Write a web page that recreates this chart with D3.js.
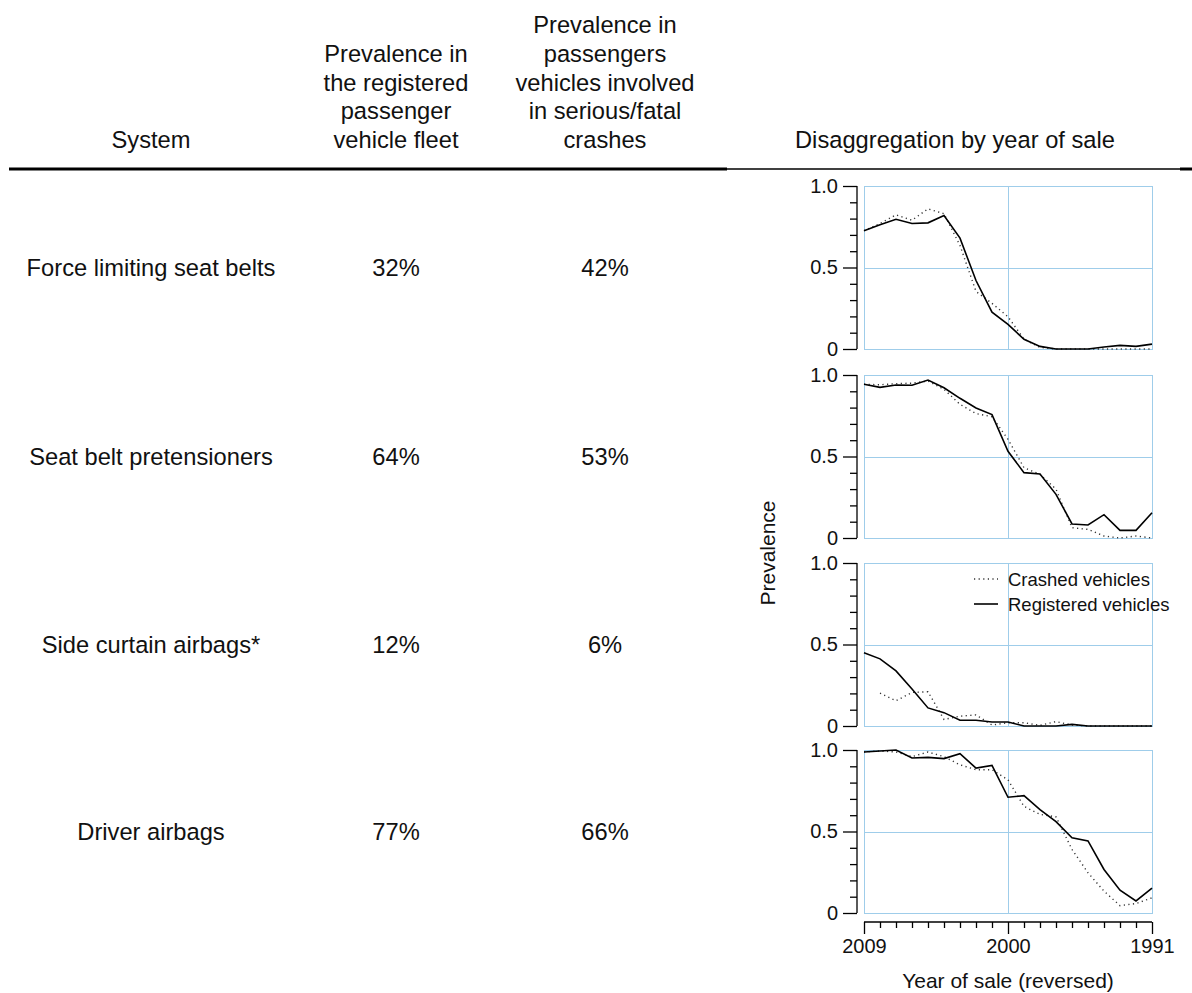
<!DOCTYPE html>
<html>
<head>
<meta charset="utf-8">
<script src="https://cdn.jsdelivr.net/npm/d3@7"></script>
<style>
  html, body { margin: 0; padding: 0; background: #fff; }
  svg { display: block; font-family: "Liberation Sans", Arial, Helvetica, sans-serif; }
</style>
</head>
<body>
<svg id="chart" width="1192" height="993"></svg>
<script>
// ---------------- data ----------------
const years = [2009, 2008, 2007, 2006, 2005, 2004, 2003, 2002, 2001, 2000,
               1999, 1998, 1997, 1996, 1995, 1994, 1993, 1992, 1991];

const systems = ["Force limiting seat belts", "Seat belt pretensioners",
                 "Side curtain airbags*", "Driver airbags"];
const fleetPct = ["32%", "64%", "12%", "77%"];
const crashPct = ["42%", "53%", "6%", "66%"];

const headerSystem = ["System"];
const headerFleet = ["Prevalence in", "the registered", "passenger", "vehicle fleet"];
const headerCrash = ["Prevalence in", "passengers", "vehicles involved", "in serious/fatal", "crashes"];
const headerDisagg = ["Disaggregation by year of sale"];

const registered = [
  [0.726, 0.762, 0.796, 0.770, 0.774, 0.819, 0.680, 0.420, 0.226, 0.151, 0.060, 0.016, 0.000, 0.000, 0.000, 0.012, 0.022, 0.016, 0.030],
  [0.943, 0.924, 0.939, 0.937, 0.969, 0.922, 0.857, 0.798, 0.757, 0.532, 0.401, 0.393, 0.268, 0.086, 0.080, 0.143, 0.047, 0.047, 0.155],
  [0.449, 0.412, 0.338, 0.227, 0.111, 0.082, 0.035, 0.035, 0.025, 0.025, 0.000, 0.000, 0.000, 0.010, 0.000, 0.000, 0.000, 0.000, 0.000],
  [0.988, 0.994, 1.000, 0.951, 0.955, 0.947, 0.977, 0.889, 0.905, 0.710, 0.720, 0.634, 0.560, 0.461, 0.442, 0.267, 0.140, 0.074, 0.152]
];
const crashed = [
  [0.726, 0.770, 0.823, 0.790, 0.860, 0.830, 0.635, 0.353, 0.280, 0.198, 0.060, 0.010, 0.000, 0.000, 0.000, 0.000, 0.000, 0.000, 0.000],
  [0.943, 0.940, 0.947, 0.950, 0.963, 0.912, 0.820, 0.763, 0.744, 0.605, 0.431, 0.390, 0.300, 0.063, 0.053, 0.012, 0.000, 0.012, 0.000],
  [null, 0.202, 0.155, 0.206, 0.210, 0.040, 0.060, 0.068, 0.006, 0.020, 0.020, 0.004, 0.027, 0.006, 0.000, 0.000, 0.000, 0.000, 0.000],
  [0.988, 0.994, 0.988, 0.959, 0.988, 0.959, 0.909, 0.879, 0.879, 0.817, 0.654, 0.605, 0.590, 0.390, 0.247, 0.134, 0.045, 0.058, 0.093]
];

const yTickValues = d3.range(0, 11).map(d => d / 10);
const yTickLabels = {0: "0", 0.5: "0.5", 1: "1.0"};
const xTickLabels = {2009: "2009", 2000: "2000", 1991: "1991"};
const legendLabels = ["Crashed vehicles", "Registered vehicles"];

// ---------------- layout ----------------
const svg = d3.select("#chart");
const TXT = "#111";
const GRID = "#9fcdea";
const panelLeft = 864, panelRight = 1152;
const panelTops = [186, 375, 563, 750];
const panelH = 163;
const col1 = 151, col2 = 396, col3 = 605, col4 = 955;
const tableFont = 23.7;
const snap = v => Math.round(v) + 0.5;

// header
const lineH = 28.75;
function headerCol(lines, cx) {
  const n = lines.length;
  svg.append("g").selectAll("text").data(lines).join("text")
    .attr("x", cx)
    .attr("y", (d, i) => 140 - (n - 1 - i) * lineH)
    .attr("text-anchor", "middle")
    .attr("dominant-baseline", "central")
    .attr("font-size", tableFont)
    .attr("fill", TXT)
    .text(d => d);
}
headerCol(headerSystem, col1);
headerCol(headerFleet, col2);
headerCol(headerCrash, col3);
headerCol(headerDisagg, col4);

// rule
svg.append("line").attr("x1", 9).attr("x2", 727).attr("y1", 169).attr("y2", 169)
  .attr("stroke", "#000").attr("stroke-width", 3);
svg.append("line").attr("x1", 727).attr("x2", 1180).attr("y1", 169).attr("y2", 169)
  .attr("stroke", "#000").attr("stroke-width", 1.6);
svg.append("line").attr("x1", 1180).attr("x2", 1192).attr("y1", 169).attr("y2", 169)
  .attr("stroke", "#000").attr("stroke-width", 3);

// scales
const x = d3.scaleLinear().domain([2009, 1991]).range([panelLeft, panelRight]);

systems.forEach((name, p) => {
  const top = panelTops[p];
  const y = d3.scaleLinear().domain([0, 1]).range([top + panelH, top]);
  const g = svg.append("g");
  const midY = y(0.5);

  // table row
  [[name, col1], [fleetPct[p], col2], [crashPct[p], col3]].forEach(([t, cx]) => {
    g.append("text").attr("x", cx).attr("y", midY)
      .attr("text-anchor", "middle").attr("dominant-baseline", "central")
      .attr("font-size", tableFont).attr("fill", TXT).text(t);
  });

  // panel box & grid
  const grid = g.append("g").attr("stroke", GRID).attr("stroke-width", 1).attr("fill", "none")
    .attr("shape-rendering", "crispEdges");
  grid.append("rect").attr("x", snap(panelLeft)).attr("y", snap(top))
    .attr("width", panelRight - panelLeft).attr("height", panelH);
  grid.append("line").attr("x1", snap(x(2000))).attr("x2", snap(x(2000))).attr("y1", top).attr("y2", top + panelH);
  grid.append("line").attr("x1", panelLeft).attr("x2", panelRight).attr("y1", snap(y(0.5))).attr("y2", snap(y(0.5)));

  // y axis
  const key = d => Math.round(d * 10) / 10;
  const yAxis = d3.axisLeft(y).tickValues(yTickValues)
    .tickSize(7).tickPadding(4)
    .tickFormat(d => yTickLabels[key(d)] !== undefined ? yTickLabels[key(d)] : "");
  const ya = g.append("g").attr("transform", `translate(857,0)`).call(yAxis);
  ya.select(".domain").attr("stroke", "#000").attr("stroke-width", 1.3).attr("d", `M-0,${y(1)}V${y(0)}`);
  ya.selectAll(".tick line").attr("stroke", "#000").attr("stroke-width", 1.3)
    .attr("x2", d => (yTickLabels[key(d)] !== undefined ? -14 : -7));
  ya.selectAll(".tick text").attr("font-size", 20).attr("fill", TXT)
    .attr("font-family", "Liberation Sans, Arial, sans-serif")
    .attr("x", -19);

  // lines
  const line = d3.line().defined(d => d.v !== null)
    .x(d => x(d.year)).y(d => y(d.v));
  const regData = years.map((yr, i) => ({year: yr, v: registered[p][i]}));
  const crData = years.map((yr, i) => ({year: yr, v: crashed[p][i]}));
  g.append("path").datum(crData).attr("d", line)
    .attr("fill", "none").attr("stroke", "#333").attr("stroke-width", 1.4)
    .attr("stroke-dasharray", "1.2,3.4");
  g.append("path").datum(regData).attr("d", line)
    .attr("fill", "none").attr("stroke", "#000").attr("stroke-width", 1.6);

  // legend in panel 3
  if (p === 2) {
    const lg = g.append("g");
    legendLabels.forEach((lab, i) => {
      const ly = 579 + i * 25;
      lg.append("line").attr("x1", 974).attr("x2", 998).attr("y1", ly).attr("y2", ly)
        .attr("stroke", i === 0 ? "#333" : "#000").attr("stroke-width", i === 0 ? 1.4 : 1.6)
        .attr("stroke-dasharray", i === 0 ? "1.2,3.4" : null);
      lg.append("text").attr("x", 1008).attr("y", ly).attr("dominant-baseline", "central")
        .attr("font-size", 18.5).attr("fill", TXT).text(lab);
    });
  }
});

// x axis
const xAxis = d3.axisBottom(x).tickValues(years).tickSize(6).tickPadding(4)
  .tickFormat(d => xTickLabels[d] || "");
const xa = svg.append("g").attr("transform", "translate(0,922)").call(xAxis);
xa.select(".domain").attr("stroke", "#000").attr("stroke-width", 1.3).attr("d", `M${panelLeft},0H${panelRight}`);
xa.selectAll(".tick line").attr("stroke", "#000").attr("stroke-width", 1.3)
  .attr("y2", d => xTickLabels[d] ? 12 : 6);
xa.selectAll(".tick text").attr("font-size", 20).attr("fill", TXT)
  .attr("font-family", "Liberation Sans, Arial, sans-serif")
  .attr("y", 17);

// axis titles
svg.append("text").attr("x", (panelLeft + panelRight) / 2).attr("y", 980)
  .attr("text-anchor", "middle").attr("dominant-baseline", "central")
  .attr("font-size", 21).attr("fill", TXT).text("Year of sale (reversed)");
svg.append("text").attr("transform", "translate(767,553) rotate(-90)")
  .attr("text-anchor", "middle").attr("dominant-baseline", "central")
  .attr("font-size", 21).attr("fill", TXT).text("Prevalence");
</script>
</body>
</html>
